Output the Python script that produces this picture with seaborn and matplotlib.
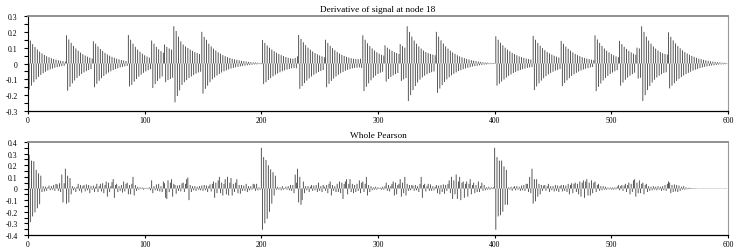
import numpy as np
import matplotlib
matplotlib.use("Agg")
import matplotlib.pyplot as plt
import seaborn as sns

# Derivative of signal at node 18 -- one list per burst (sample index in name)
top_000 = [0.170, -0.165, 0.145, -0.140, 0.122, -0.118, 0.104, -0.100, 0.088, -0.085,
           0.075, -0.072, 0.064, -0.061, 0.054, -0.052, 0.046, -0.044, 0.039, -0.037,
           0.033, -0.032, 0.028, -0.027, 0.024, -0.023, 0.020, -0.019, 0.017, -0.016,
           0.015, -0.014, 0.012]
top_033 = [0.178, -0.172, 0.152, -0.147, 0.130, -0.125, 0.111, -0.107, 0.095, -0.091,
           0.081, -0.078, 0.069, -0.066, 0.059, -0.056, 0.050, -0.048, 0.043, -0.041,
           0.037, -0.035, 0.031]
top_056 = [0.140, -0.150, 0.125, -0.128, 0.108, -0.109, 0.092, -0.093, 0.079, -0.079,
           0.067, -0.067, 0.057, -0.057, 0.049, -0.049, 0.042, -0.041, 0.036, -0.035,
           0.030, -0.030, 0.026, -0.025, 0.022, -0.021, 0.019, -0.018, 0.016, -0.015]
top_086 = [0.180, -0.145, 0.150, -0.135, 0.125, -0.115, 0.105, -0.098, 0.088, -0.083,
           0.074, -0.070, 0.062, -0.059, 0.052, -0.050, 0.044, -0.042, 0.037, -0.036]
top_106 = [0.145, -0.155, 0.125, -0.130, 0.105, -0.110, 0.090, -0.095, 0.078, -0.082,
           0.068]
top_117 = [0.120, -0.118, 0.105, -0.105, 0.095, -0.098, 0.088, -0.090]
top_125 = [0.235, -0.245, 0.205, -0.205, 0.170, -0.170, 0.140, -0.135, 0.120, -0.118,
           0.108, -0.105, 0.098, -0.092, 0.088, -0.082, 0.080, -0.072, 0.072, -0.064,
           0.066, -0.057, 0.060, -0.052]
top_149 = [0.200, -0.190, 0.168, -0.160, 0.150, -0.140, 0.125, -0.118, 0.108, -0.100,
           0.094, -0.088, 0.082, -0.076, 0.071, -0.066, 0.062, -0.057, 0.053, -0.049,
           0.046, -0.043, 0.040, -0.037, 0.035, -0.032, 0.030, -0.028, 0.026, -0.024,
           0.023, -0.021, 0.020, -0.018, 0.017, -0.016, 0.015, -0.013, 0.012, -0.011,
           0.010, -0.009, 0.008, -0.008, 0.007, -0.006, 0.006, -0.005, 0.005, -0.004,
           0.004]
top_200 = [-0.004, 0.148, -0.130, 0.130, -0.118, 0.114, -0.104, 0.100, -0.092, 0.088,
           -0.081, 0.077, -0.071, 0.068, -0.063, 0.060, -0.055, 0.053, -0.049, 0.047,
           -0.043, 0.041, -0.038, 0.036, -0.034, 0.032, -0.030, 0.030, -0.028, 0.035,
           -0.030, 0.045]
top_232 = [0.180, -0.160, 0.155, -0.142, 0.134, -0.124, 0.116, -0.108, 0.100, -0.094,
           0.087, -0.082, 0.076, -0.071, 0.066, -0.062, 0.058, -0.054, 0.051, -0.047,
           0.045, -0.041, 0.040]
top_255 = [0.150, -0.150, 0.130, -0.128, 0.112, -0.110, 0.097, -0.095, 0.084, -0.082,
           0.073, -0.071, 0.063, -0.061, 0.055, -0.053, 0.048, -0.046, 0.042, -0.040,
           0.037, -0.035, 0.033, -0.031, 0.030, -0.028, 0.028, -0.026, 0.027, -0.025,
           0.030, -0.028]
top_287 = [0.178, -0.174, 0.150, -0.147, 0.128, -0.125, 0.110, -0.106, 0.095, -0.090,
           0.082, -0.077, 0.071, -0.066, 0.062, -0.058, 0.055, -0.052, 0.050]
top_306 = [0.115, -0.115, 0.100, -0.098, 0.090, -0.085, 0.080, -0.075, 0.072, -0.067,
           0.066, -0.060, 0.060]
top_319 = [0.122, -0.110, 0.110, -0.100, 0.100, -0.092]
top_325 = [0.235, -0.237, 0.200, -0.200, 0.170, -0.168, 0.145, -0.142, 0.125, -0.120,
           0.108, -0.102, 0.094, -0.088, 0.082, -0.077, 0.072, -0.068, 0.065, -0.060,
           0.060, -0.055, 0.056, -0.050, 0.052]
top_350 = [0.200, -0.185, 0.170, -0.158, 0.146, -0.136, 0.126, -0.117, 0.108, -0.100,
           0.094, -0.087, 0.081, -0.075, 0.070, -0.065, 0.061, -0.056, 0.052, -0.048,
           0.045, -0.042, 0.039, -0.036, 0.034, -0.031, 0.029, -0.027, 0.025, -0.023,
           0.021, -0.019, 0.018, -0.016, 0.015, -0.014, 0.012, -0.011, 0.010, -0.009,
           0.008, -0.007, 0.006, -0.006, 0.005, -0.004, 0.004, -0.004, 0.003, -0.003]
top_400 = [0.003, 0.172, -0.140, 0.150, -0.128, 0.131, -0.114, 0.115, -0.101, 0.100,
           -0.089, 0.088, -0.078, 0.077, -0.069, 0.067, -0.060, 0.059, -0.053, 0.052,
           -0.046, 0.045, -0.041, 0.040, -0.036, 0.035, -0.032, 0.031, -0.028, 0.028,
           -0.025, 0.025, -0.022]
top_433 = [0.174, -0.168, 0.150, -0.145, 0.130, -0.125, 0.112, -0.108, 0.097, -0.093,
           0.084, -0.080, 0.073, -0.069, 0.064, -0.060, 0.056, -0.052, 0.049, -0.045,
           0.043, -0.040, 0.038, -0.035]
top_457 = [0.143, -0.143, 0.124, -0.123, 0.107, -0.106, 0.093, -0.092, 0.081, -0.079,
           0.070, -0.068, 0.061, -0.059, 0.053, -0.051, 0.046, -0.044, 0.040, -0.038,
           0.035, -0.033, 0.031, -0.029, 0.027, -0.025, 0.024, -0.022, 0.021]
top_486 = [0.178, -0.174, 0.152, -0.148, 0.130, -0.126, 0.111, -0.107, 0.095, -0.091,
           0.081, -0.078, 0.070, -0.066, 0.060, -0.057, 0.052, -0.049, 0.045, -0.042,
           0.040]
top_507 = [0.143, -0.140, 0.123, -0.120, 0.106, -0.103, 0.092, -0.089, 0.080, -0.077,
           0.070, -0.067, 0.062, -0.058, 0.055]
top_522 = [0.100, -0.095, 0.095, -0.090]
top_526 = [0.235, -0.237, 0.200, -0.200, 0.170, -0.168, 0.145, -0.142, 0.125, -0.120,
           0.108, -0.102, 0.094, -0.088, 0.082, -0.077, 0.072, -0.068, 0.065, -0.060,
           0.060, -0.055, 0.056]
top_549 = [0.197, -0.157, 0.168, -0.140, 0.146, -0.124, 0.127, -0.110, 0.110, -0.097,
           0.096, -0.086, 0.083, -0.076, 0.072, -0.067, 0.063, -0.059, 0.055, -0.052,
           0.048, -0.045, 0.042, -0.039, 0.036, -0.034, 0.031, -0.029, 0.027, -0.025,
           0.023, -0.021, 0.020, -0.018, 0.017, -0.015, 0.014, -0.013, 0.012, -0.011,
           0.010, -0.009, 0.008, -0.007, 0.007, -0.006, 0.005, -0.005, 0.004, -0.004,
           0.003]

# Whole Pearson
bot_000 = [-0.350, 0.290, -0.290, 0.240, -0.240, 0.235, -0.205, 0.160, -0.170, 0.130,
           -0.135, 0.110, -0.030, 0.020, -0.025, 0.015, -0.020, 0.010, 0.025, -0.015,
           0.020, -0.010, 0.030, -0.020, 0.040, 0.035, -0.020, 0.045, -0.030, 0.120,
           -0.120, 0.045, 0.170, -0.130, 0.110, -0.120, 0.090, -0.050, 0.020, -0.015]
bot_040 = [0.010, -0.030, 0.015, 0.040, -0.020, 0.030, -0.035, 0.020, 0.030, -0.025,
           0.035, -0.015, 0.030, -0.040, 0.020, -0.010, 0.025, -0.030, 0.015, 0.040,
           -0.030, 0.020, 0.040, -0.025, 0.045, -0.040, 0.030, 0.060, -0.070, 0.050,
           -0.030, 0.020, 0.055, 0.080, -0.080, 0.030, 0.040, -0.030, 0.020, -0.020,
           0.030, -0.035, 0.060, -0.025, 0.040, 0.050, -0.050, 0.030, -0.050, 0.040,
           0.100, -0.060, 0.030, -0.020, 0.015, -0.010, 0.010, -0.005, 0.008, -0.010]
bot_100 = [0.005, -0.004, 0.006, -0.005, 0.010, -0.015, 0.070, -0.040, 0.020, -0.015,
           0.035, -0.020, 0.040, -0.025, 0.020, -0.030, 0.060, 0.045, -0.080, -0.090,
           0.070, -0.030, 0.050, 0.080, -0.070, 0.040, 0.030, -0.045, 0.025, -0.020,
           0.030, -0.025, 0.045, 0.050, -0.030, 0.040, 0.080, 0.095, -0.100, 0.030,
           -0.030, 0.020, -0.015, 0.020, -0.020, 0.015, -0.010, 0.020, -0.015, 0.025]
bot_150 = [-0.020, 0.030, -0.015, 0.025, -0.030, 0.020, 0.035, -0.025, 0.040, 0.060,
           -0.080, 0.050, -0.040, 0.070, 0.100, -0.040, 0.050, -0.060, 0.040, 0.080,
           -0.050, 0.100, -0.060, 0.050, 0.090, -0.060, 0.040, -0.030, 0.050, 0.080,
           -0.040, 0.030, -0.045, 0.030, -0.020, 0.025, -0.020, 0.040, -0.030, 0.020,
           -0.015, 0.020, -0.010, 0.040, 0.035, -0.020, 0.040, -0.015, 0.010, -0.010]
bot_200 = [0.350, -0.355, 0.270, -0.300, 0.245, -0.260, 0.200, -0.200, 0.165, -0.130,
           0.140, -0.060, 0.110, -0.010, 0.015, -0.010, 0.010, -0.015, 0.020, -0.010,
           0.005, 0.015, -0.010, 0.020, -0.015, 0.030, -0.020, 0.030, -0.040, 0.120,
           0.050, 0.170, -0.120, 0.100, -0.140, -0.100, 0.060, -0.040, 0.020, -0.015]
bot_240 = [0.020, -0.030, 0.015, 0.030, -0.020, 0.025, -0.015, 0.030, -0.030, 0.050,
           -0.020, 0.020, -0.030, 0.030, 0.015, -0.020, 0.030, -0.040, 0.040, 0.060,
           -0.060, 0.030, -0.020, 0.020, -0.030, 0.040, -0.030, 0.060, -0.040, 0.050,
           -0.090, 0.040, 0.060, 0.080, -0.050, 0.040, 0.080, -0.030, 0.040, -0.040,
           0.030, -0.030, 0.040, -0.020, 0.070, -0.040, 0.050, 0.060, -0.030, 0.040,
           0.100, -0.060, 0.030, -0.030, 0.020, -0.015, 0.010, -0.010, 0.015, -0.010]
bot_300 = [0.010, -0.005, 0.008, -0.010, 0.015, -0.010, 0.020, 0.050, -0.020, 0.030,
           -0.025, 0.020, 0.040, 0.060, -0.060, 0.050, -0.050, 0.030, 0.040, 0.080,
           -0.070, 0.050, -0.040, 0.100, -0.060, 0.040, -0.020, 0.030, -0.015, 0.030,
           0.025, -0.020, 0.030, -0.015, 0.020, -0.030, 0.040, 0.100, -0.080, 0.030,
           0.040, -0.025, 0.020, 0.040, -0.020, 0.035, -0.020, 0.020, -0.015, 0.015]
bot_350 = [0.030, -0.040, 0.025, -0.050, 0.030, -0.030, 0.035, -0.045, 0.030, -0.020,
           0.040, 0.070, -0.040, 0.100, -0.090, 0.070, -0.050, 0.120, -0.090, 0.060,
           0.100, -0.100, 0.050, 0.060, -0.080, 0.040, 0.060, -0.070, 0.040, 0.080,
           -0.050, 0.030, 0.050, -0.040, 0.030, -0.030, 0.060, -0.030, 0.020, 0.050,
           -0.020, 0.030, -0.015, 0.010, -0.010, 0.015, -0.010, 0.010, -0.005, 0.010]
bot_400 = [0.350, -0.355, 0.270, -0.240, 0.240, -0.230, 0.240, -0.200, 0.190, -0.140,
           0.160, -0.140, 0.010, -0.010, 0.015, -0.020, 0.010, 0.020, -0.015, 0.020,
           -0.010, 0.015, -0.020, 0.025, -0.015, 0.030, -0.020, 0.040, 0.040, -0.030,
           0.100, -0.040, 0.170, -0.130, 0.080, -0.110, 0.080, -0.070, 0.040, -0.050]
bot_440 = [0.030, -0.020, 0.025, 0.030, -0.020, 0.020, 0.040, -0.030, 0.020, -0.015,
           0.020, -0.025, 0.030, -0.020, 0.025, -0.030, 0.020, 0.030, -0.025, 0.030,
           -0.020, 0.025, -0.030, 0.040, -0.050, 0.030, 0.045, -0.040, 0.040, 0.050,
           -0.030, 0.040, -0.050, 0.060, -0.070, 0.050, 0.070, -0.080, 0.060, 0.080,
           -0.060, 0.050, -0.060, 0.070, -0.040, 0.050, 0.060, -0.030, 0.030, 0.040,
           -0.020, 0.020, -0.015, 0.020, -0.010, 0.015, -0.010, 0.008, -0.008, 0.010]
bot_500 = [-0.010, 0.008, -0.010, 0.010, -0.008, 0.015, 0.030, -0.015, 0.020, 0.030,
           -0.020, 0.025, 0.040, -0.030, 0.030, 0.050, -0.050, 0.040, -0.030, 0.070,
           0.080, -0.070, 0.050, -0.040, 0.070, -0.040, 0.040, 0.050, -0.050, 0.030,
           0.040, -0.030, 0.020, -0.020, 0.015, -0.015, 0.020, -0.010, 0.015, -0.015,
           0.020, -0.010, 0.015, -0.020, 0.020, -0.015, 0.030, -0.020, 0.040, 0.060]
bot_550 = [0.050, -0.040, 0.030, -0.030, 0.035, -0.025, 0.030, -0.030, 0.025, -0.020,
           0.015, -0.010, 0.020, -0.010, 0.010, -0.006, 0.006, -0.005, 0.005, -0.004,
           0.004, -0.003, 0.003, -0.002, 0.002, -0.002, 0.002, -0.002, 0.002, -0.002,
           0.002, -0.002, 0.002, -0.002, 0.002, -0.002, 0.002, -0.002, 0.002, -0.002,
           0.002, -0.002, 0.002, -0.002, 0.002, -0.002, 0.002, -0.002, 0.002, -0.002]

top_vals = np.concatenate([top_000, top_033, top_056, top_086, top_106, top_117, top_125, top_149,
                           top_200, top_232, top_255, top_287, top_306, top_319, top_325, top_350,
                           top_400, top_433, top_457, top_486, top_507, top_522, top_526, top_549])
bot_vals = np.concatenate([bot_000, bot_040, bot_100, bot_150, bot_200, bot_240,
                           bot_300, bot_350, bot_400, bot_440, bot_500, bot_550])
assert len(top_vals) == 600 and len(bot_vals) == 600, (len(top_vals), len(bot_vals))
samples = np.arange(600)

x_ticks = [0, 100, 200, 300, 400, 500, 600]
top_yticks = [-0.3, -0.2, -0.1, 0, 0.1, 0.2, 0.3]
top_ylabels = ["-0.3", "-0.2", "-0.1", "0", "0.1", "0.2", "0.3"]
bot_yticks = [-0.4, -0.3, -0.2, -0.1, 0, 0.1, 0.2, 0.3, 0.4]
bot_ylabels = ["-0.4", "-0.3", "-0.2", "-0.1", "0", "0.1", "0.2", "0.3", "0.4"]

sns.set_style("white")
plt.rcParams['font.family'] = ['Liberation Serif', 'DejaVu Serif']
plt.rcParams['axes.unicode_minus'] = False

fig = plt.figure(figsize=(7.47, 2.51), dpi=100)
ax1 = fig.add_axes([28 / 747, 1 - 112 / 251, 700 / 747, 95 / 251])
ax2 = fig.add_axes([28 / 747, 1 - 236 / 251, 700 / 747, 93 / 251])


def style_panel(ax, vals, yticks, ylabels, title):
    ax.vlines(samples, 0, vals, colors='#3a3a3a', linewidth=0.6, antialiased=True, snap=False)
    ax.set_xlim(0, 600)
    ax.set_ylim(yticks[0], yticks[-1])
    ax.set_xticks(x_ticks, labels=[str(v) for v in x_ticks])
    ax.set_yticks(yticks, labels=ylabels)
    ax.set_yticks(np.arange(yticks[0] + 0.05, yticks[-1], 0.1), minor=True)
    ax.tick_params(axis='y', which='both', left=True, length=3, width=0.8, color='black',
                   labelsize=5.6, pad=4.5, labelcolor='black')
    ax.tick_params(axis='x', bottom=True, length=2, width=0.8, color='black',
                   labelsize=5.6, pad=1.5, labelcolor='black')
    ax.spines['left'].set_color('black')
    ax.spines['left'].set_linewidth(0.8)
    ax.spines['bottom'].set_color('black')
    ax.spines['bottom'].set_linewidth(0.9)
    ax.spines['top'].set_color('#888888')
    ax.spines['top'].set_linewidth(1.3)
    ax.spines['right'].set_color('#999999')
    ax.spines['right'].set_linewidth(0.8)
    ax.set_title(title, fontsize=6.7, pad=3.5, color='black')


style_panel(ax1, top_vals, top_yticks, top_ylabels, "Derivative of signal at node 18")
style_panel(ax2, bot_vals, bot_yticks, bot_ylabels, "Whole Pearson")

fig.savefig("out.png", dpi=100, facecolor='white')
